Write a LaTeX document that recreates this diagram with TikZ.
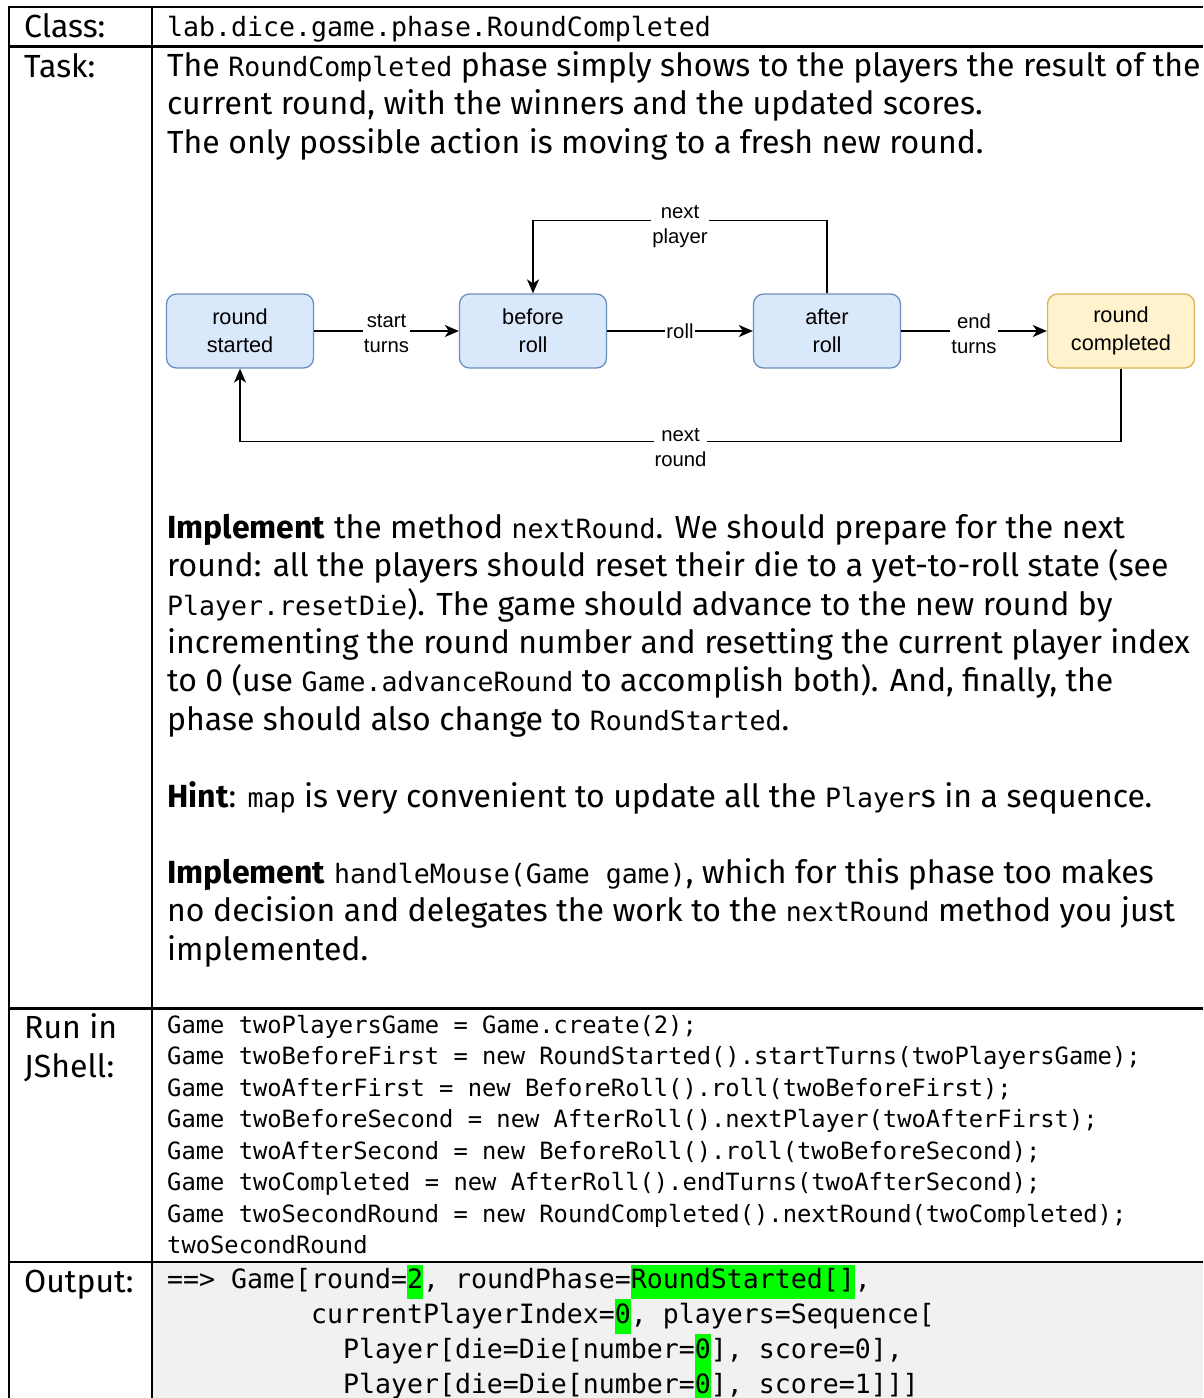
\documentclass[tikz,border=0pt]{standalone}
\usepackage{fontspec}
\setmainfont{Fira Sans}
\setmonofont[Scale=0.83]{DejaVu Sans Mono}
\newfontfamily\diagfont{Liberation Sans}
\usetikzlibrary{positioning, arrows.meta}

\definecolor{phaseBlue}{HTML}{DAE8FC}
\definecolor{phaseBlueLine}{HTML}{6C8EBF}
\definecolor{phaseYellow}{HTML}{FFF2CC}
\definecolor{phaseYellowLine}{HTML}{D6B656}
\definecolor{outputGrey}{HTML}{F1F1F1}
\definecolor{hlGreen}{HTML}{00FF00}

\newcommand{\bodyfont}{\fontsize{32}{38.3}\selectfont}
\newcommand{\runfont}{\ttfamily\fontsize{28.65}{31.5}\selectfont}
\newcommand{\outfont}{\ttfamily\fontsize{32}{34.7}\selectfont}
\newcommand{\boxfont}{\diagfont\fontsize{21.7}{28}\selectfont}
\newcommand{\labelfont}{\diagfont\fontsize{20.3}{25}\selectfont}
\newcommand{\hl}[1]{{\setlength{\fboxsep}{0pt}\colorbox{hlGreen}{\strut#1}}}

\tikzstyle{phaseNode}=[draw=phaseBlueLine, fill=phaseBlue, rounded corners=10pt, minimum width=147pt, minimum height=74pt, align=center, line width=1.3pt, font=\boxfont]
\tikzstyle{finalNode}=[phaseNode, draw=phaseYellowLine, fill=phaseYellow]
\tikzstyle{phaseTransition}=[-{Stealth[length=14pt,width=12pt,inset=4pt]}, line width=1.6pt]
\tikzstyle{edgeLabel}=[fill=white, inner sep=1pt, align=center, font=\labelfont]
\tikzstyle{cellText}=[anchor=base west, inner sep=0pt, align=left, font=\bodyfont]
\tikzstyle{tableRule}=[line width=2.5pt]

\begin{document}
\begin{tikzpicture}[x=1pt, y=-1pt]
        \useasboundingbox (0,0) rectangle (1203,1398);
        \fill[outputGrey] (152,1262) rectangle (1203,1398);

        % table
        \draw[tableRule] (8,7) -- (1203,7);
        \draw[tableRule] (8,46.5) -- (1203,46.5);
        \draw[tableRule] (8,1008.5) -- (1203,1008.5);
        \draw[tableRule] (8,1262) -- (1203,1262);
        \draw[tableRule] (9,6) -- (9,1398);
        \draw[tableRule] (152,6) -- (152,1398);

        % (multi-line nodes sit on the baseline of their last line)
        \node[cellText] (classLbl) at (24,37) {Class:};
        \node[cellText] (taskLbl) at (24,77) {Task:};
        \node[cellText] (runLbl) at (24,1077) {Run in\\JShell:};
        \node[cellText] (outLbl) at (24,1292) {Output:};

        \node[cellText] (className) at (167,36) {\texttt{lab.dice.game.phase.RoundCompleted}};

        \node[cellText] (intro) at (167,153) {The \texttt{RoundCompleted} phase simply shows to the players the result of the\\
            current round, with the winners and the updated scores.\\
            The only possible action is moving to a fresh new round.};

        % phases
        \node[phaseNode] (rs) at (240,331) {round\\started};
        \node[phaseNode] (br) at (533,331) {before\\roll};
        \node[phaseNode] (ar) at (827,331) {after\\roll};
        \node[finalNode] (rc) at (1121,331) {round\\completed};

        \draw[phaseTransition] (rs) -- node[edgeLabel, yshift=-3pt] {start\\turns} (br);
        \draw[phaseTransition] (br) -- node[edgeLabel] {roll} (ar);
        \draw[phaseTransition] (ar) -- node[edgeLabel, yshift=-3pt] {end\\turns} (rc);
        \draw[phaseTransition] (ar.north) -- ++(0,-73) -| node[edgeLabel, pos=0.25, yshift=-6pt] {next\\player} (br.north);
        \draw[phaseTransition] (rc.south) -- ++(0,73) -| node[edgeLabel, pos=0.25, yshift=-6pt] {next\\round} (rs.south);

        \node[cellText] (implRound) at (167,730) {\textbf{Implement} the method \texttt{nextRound}. We should prepare for the next\\
            round: all the players should reset their die to a yet-to-roll state (see\\
            \texttt{Player.resetDie}). The game should advance to the new round by\\
            incrementing the round number and resetting the current player index\\
            to 0 (use \texttt{Game.advanceRound} to accomplish both). And, finally, the\\
            phase should also change to \texttt{RoundStarted}.};

        \node[cellText] (hint) at (167,807) {\textbf{Hint}: \texttt{map} is very convenient to update all the \texttt{Player}s in a sequence.};

        \node[cellText] (implMouse) at (167,960) {\textbf{Implement} \texttt{handleMouse(Game game)}, which for this phase too makes\\
            no decision and delegates the work to the \texttt{nextRound} method you just\\
            implemented.};

        \node[cellText, font=\runfont] (runCode) at (167,1253.5) {Game twoPlayersGame = Game.create(2);\\
            Game twoBeforeFirst = new RoundStarted().startTurns(twoPlayersGame);\\
            Game twoAfterFirst = new BeforeRoll().roll(twoBeforeFirst);\\
            Game twoBeforeSecond = new AfterRoll().nextPlayer(twoAfterFirst);\\
            Game twoAfterSecond = new BeforeRoll().roll(twoBeforeSecond);\\
            Game twoCompleted = new AfterRoll().endTurns(twoAfterSecond);\\
            Game twoSecondRound = new RoundCompleted().nextRound(twoCompleted);\\
            twoSecondRound};

        \node[cellText, font=\outfont] (outCode) at (167,1393) {==> Game[round=\hl{2}, roundPhase=\hl{RoundStarted[]},\\
            \phantom{123456789}currentPlayerIndex=\hl{0}, players=Sequence[\\
            \phantom{12345678901}Player[die=Die[number=\hl{0}], score=0],\\
            \phantom{12345678901}Player[die=Die[number=\hl{0}], score=1]]]};
\end{tikzpicture}
\end{document}
